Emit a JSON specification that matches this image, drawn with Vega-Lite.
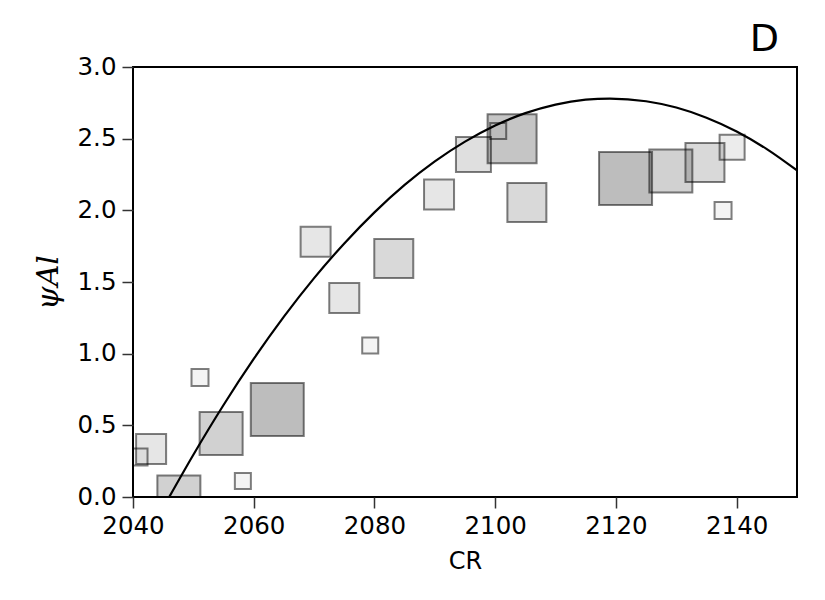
{
  "$schema": "https://vega.github.io/schema/vega-lite/v6.json",
  "width": 664,
  "height": 430,
  "autosize": {"type": "none"},
  "padding": {"left": 133, "top": 67, "right": 28, "bottom": 103},
  "background": "white",
  "config": {
    "font": "DejaVu Sans",
    "view": {"stroke": "black", "strokeWidth": 2},
    "axis": {
      "grid": false,
      "domain": false,
      "labelFlush": false,
      "labelOverlap": false,
      "tickColor": "#333",
      "tickWidth": 1.5,
      "tickSize": 11,
      "labelFont": "DejaVu Sans",
      "labelFontSize": 24.5,
      "labelColor": "black",
      "titleColor": "black",
      "titleFontWeight": "normal"
    }
  },
  "title": {
    "text": "D",
    "anchor": "end",
    "fontSize": 38,
    "fontWeight": "normal",
    "font": "DejaVu Sans",
    "color": "black",
    "offset": -5,
    "dx": -18
  },
  "datasets": {
    "pts": [
      {"cr": 2051.1, "psi": 0.834, "n": 2.83},
      {"cr": 2063.9, "psi": 0.61, "n": 8.83},
      {"cr": 2054.6, "psi": 0.443, "n": 7.17},
      {"cr": 2043.0, "psi": 0.335, "n": 5.0},
      {"cr": 2041.0, "psi": 0.279, "n": 2.83},
      {"cr": 2047.6, "psi": 0.0, "n": 7.17},
      {"cr": 2058.2, "psi": 0.112, "n": 2.67},
      {"cr": 2070.25, "psi": 1.78, "n": 5.0},
      {"cr": 2083.2, "psi": 1.664, "n": 6.5},
      {"cr": 2075.0, "psi": 1.388, "n": 5.0},
      {"cr": 2079.3, "psi": 1.057, "n": 2.67},
      {"cr": 2102.8, "psi": 2.5, "n": 8.17},
      {"cr": 2100.5, "psi": 2.553, "n": 2.67},
      {"cr": 2096.4, "psi": 2.39, "n": 5.83},
      {"cr": 2090.7, "psi": 2.11, "n": 5.0},
      {"cr": 2105.25, "psi": 2.055, "n": 6.5},
      {"cr": 2121.6, "psi": 2.222, "n": 8.83},
      {"cr": 2129.1, "psi": 2.274, "n": 7.17},
      {"cr": 2134.75, "psi": 2.334, "n": 6.5},
      {"cr": 2139.25, "psi": 2.44, "n": 4.17},
      {"cr": 2137.75, "psi": 1.999, "n": 2.83}
    ],
    "curve": [
      {"cr": 2046, "psi": 0.0},
      {"cr": 2050, "psi": 0.295},
      {"cr": 2055, "psi": 0.642},
      {"cr": 2060, "psi": 0.963},
      {"cr": 2065, "psi": 1.258},
      {"cr": 2070, "psi": 1.527},
      {"cr": 2075, "psi": 1.769},
      {"cr": 2080, "psi": 1.986},
      {"cr": 2085, "psi": 2.177},
      {"cr": 2090, "psi": 2.341},
      {"cr": 2095, "psi": 2.479},
      {"cr": 2100, "psi": 2.592},
      {"cr": 2105, "psi": 2.678},
      {"cr": 2110, "psi": 2.738},
      {"cr": 2115, "psi": 2.772},
      {"cr": 2119, "psi": 2.78},
      {"cr": 2125, "psi": 2.761},
      {"cr": 2130, "psi": 2.717},
      {"cr": 2135, "psi": 2.646},
      {"cr": 2140, "psi": 2.55},
      {"cr": 2145, "psi": 2.427},
      {"cr": 2150, "psi": 2.278}
    ]
  },
  "layer": [
    {
      "data": {"name": "pts"},
      "mark": {"type": "point", "shape": "square", "filled": false, "clip": true, "fill": "black", "stroke": "black", "strokeOpacity": 0.5, "strokeWidth": 2},
      "encoding": {
        "x": {
          "field": "cr", "type": "quantitative",
          "scale": {"domain": [2040, 2150], "nice": false, "zero": false, "padding": 0},
          "axis": {"values": [2040, 2060, 2080, 2100, 2120, 2140], "format": "d", "title": "CR", "titleFontSize": 24, "titleFont": "DejaVu Sans", "titlePadding": 12, "labelPadding": 6}
        },
        "y": {
          "field": "psi", "type": "quantitative",
          "scale": {"domain": [0, 3], "nice": false, "zero": false, "padding": 0},
          "axis": {"values": [0, 0.5, 1, 1.5, 2, 2.5, 3], "format": ".1f", "title": "ψAl", "titleFont": "DejaVu Serif", "titleFontStyle": "italic", "titleFontSize": 30, "titlePadding": 14, "labelPadding": 6}
        },
        "size": {"field": "n", "type": "quantitative", "legend": null, "scale": {"type": "pow", "exponent": 2, "domain": [0, 10], "range": [0, 3600]}},
        "fillOpacity": {"field": "n", "type": "quantitative", "legend": null, "scale": {"type": "pow", "exponent": 2, "domain": [0, 9], "range": [0.02, 0.27]}},
        "opacity": {"value": 1}
      }
    },
    {
      "data": {"name": "curve"},
      "mark": {"type": "line", "color": "black", "strokeWidth": 2.2, "clip": true, "interpolate": "monotone"},
      "encoding": {
        "x": {"field": "cr", "type": "quantitative", "scale": {"domain": [2040, 2150], "nice": false, "zero": false, "padding": 0}},
        "y": {"field": "psi", "type": "quantitative", "scale": {"domain": [0, 3], "nice": false, "zero": false, "padding": 0}}
      }
    }
  ]
}
